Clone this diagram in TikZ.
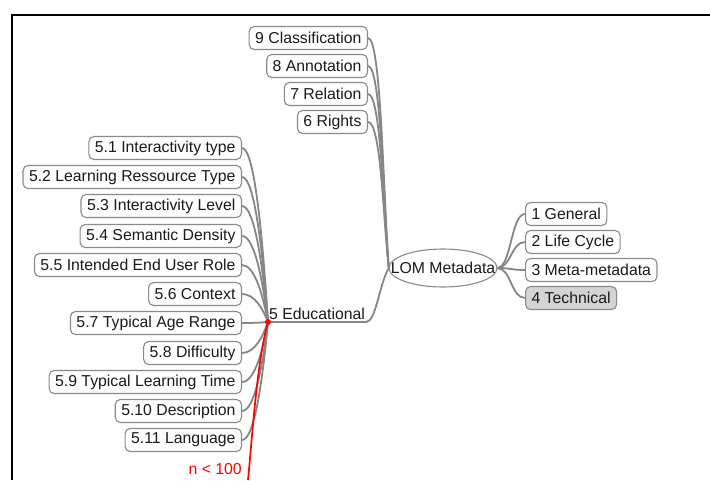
\documentclass[tikz,border=0pt]{standalone}
\usepackage{fontspec}
\setmainfont{Liberation Sans}
\usetikzlibrary{shapes.geometric,calc,backgrounds}
\definecolor{edge}{HTML}{868686}
\definecolor{boxline}{HTML}{8A8A8A}
\definecolor{techfill}{HTML}{D4D4D4}
\definecolor{txt}{HTML}{1A1A1A}
\begin{document}
\begin{tikzpicture}[x=1pt,y=-1pt,
  every node/.style={font=\fontsize{15.8}{17}\selectfont, text=txt},
  topic/.style={draw=boxline, line width=1.1pt, rounded corners=5pt, fill=white,
    minimum height=23pt, inner xsep=6pt, inner ysep=0pt},
  tech/.style={topic, fill=techfill},
  link/.style={draw=edge, line width=1.8pt},
  redlink/.style={draw=red, line width=1.7pt},
  frame/.style={draw=black, line width=2.5pt}]
\useasboundingbox (0,0) rectangle (710,480);
\draw[frame] (12,480) -- (12,15) -- (710,15);

% central node
\node[minimum width=108pt, minimum height=38pt, inner sep=0pt] (lom) at (443,268) {LOM Metadata};

% top branch
\node[topic, anchor=east] (c9) at (368,38) {9 Classification};
\node[topic, anchor=east] (c8) at (368,66) {8 Annotation};
\node[topic, anchor=east] (c7) at (368,94) {7 Relation};
\node[topic, anchor=east] (c6) at (368,122) {6 Rights};

% right branch
\node[topic, anchor=west] (r1) at (525,214) {1 General};
\node[topic, anchor=west] (r2) at (525,242) {2 Life Cycle};
\node[topic, anchor=west] (r3) at (525,270) {3 Meta-metadata};
\node[tech, anchor=west] (r4) at (525,298) {4 Technical};

% educational
\coordinate (eduhub) at (268,322);
\coordinate (eduend) at (366,322);
\node[anchor=south west, inner sep=1pt] (edu) at (268,321) {5 Educational};

\node[topic, anchor=east] (e1) at (242,148) {5.1 Interactivity type};
\node[topic, anchor=east] (e2) at (242,177) {5.2 Learning Ressource Type};
\node[topic, anchor=east] (e3) at (242,206) {5.3 Interactivity Level};
\node[topic, anchor=east] (e4) at (242,236) {5.4 Semantic Density};
\node[topic, anchor=east] (e5) at (242,265) {5.5 Intended End User Role};
\node[topic, anchor=east] (e6) at (242,294) {5.6 Context};
\node[topic, anchor=east] (e7) at (242,323) {5.7 Typical Age Range};
\node[topic, anchor=east] (e8) at (242,353) {5.8 Difficulty};
\node[topic, anchor=east] (e9) at (242,382) {5.9 Typical Learning Time};
\node[topic, anchor=east] (e10) at (242,411) {5.10 Description};
\node[topic, anchor=east] (e11) at (242,440) {5.11 Language};
\node[anchor=east, text=red, inner sep=1pt] (n100) at (243,469) {n < 100};
\coordinate (redend) at (248,480);

\begin{pgfonlayer}{background}
  \foreach \c/\y in {c9/38,c8/66,c7/94,c6/122}
    \draw[link] (\c.east) .. controls +(13,0) and (383,{268-(268-\y)*0.35}) .. (lom.west);
  \foreach \c in {r1,r2,r3,r4}
    \draw[link] (lom.east) .. controls +(14,0) and +(-14,0) .. (\c.west);
  \foreach \c/\y in {e1/148,e2/177,e3/206,e4/236,e5/265,e6/294,e7/323,e8/353,e9/382,e10/411,e11/440}
    \draw[link] (\c.east) .. controls +(13,0) and (263,{322+(\y-322)*0.45}) .. (eduhub);
  \draw[link] (eduhub) -- (eduend) .. controls (376,322) and (379,285) .. (lom.west);
  \draw[redlink] (eduhub) .. controls (257,360) and (252,440) .. (redend);
\end{pgfonlayer}
\draw[draw=boxline, line width=1.1pt] (lom.center) ellipse [x radius=54pt, y radius=19pt];
\fill[red] (eduhub) circle (3pt);
\end{tikzpicture}
\end{document}
